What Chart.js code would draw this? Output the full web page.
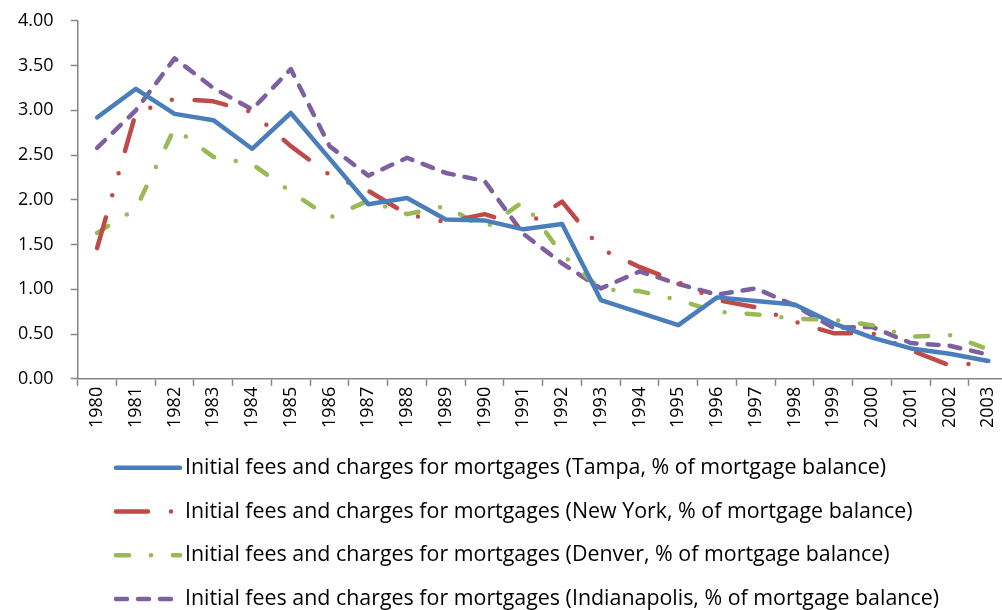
<!DOCTYPE html>
<html>
<head>
<meta charset="utf-8">
<script src="https://cdn.jsdelivr.net/npm/chart.js@4.4.0/dist/chart.umd.min.js"></script>
<style>
  html, body { margin: 0; padding: 0; background: #fff; overflow: hidden; }
  #wrap { width: 1011px; height: 610px; }
</style>
</head>
<body>
<div id="wrap"><canvas id="feesChart" width="1011" height="610"></canvas></div>
<script>
const years = ['1980', '1981', '1982', '1983', '1984', '1985', '1986', '1987', '1988', '1989', '1990', '1991',
               '1992', '1993', '1994', '1995', '1996', '1997', '1998', '1999', '2000', '2001', '2002', '2003'];

const tampa        = [2.92, 3.24, 2.96, 2.89, 2.57, 2.97, 2.46, 1.95, 2.02, 1.78, 1.77, 1.67,
                      1.73, 0.88, 0.74, 0.60, 0.91, 0.87, 0.83, 0.62, 0.46, 0.34, 0.28, 0.20];
const newYork      = [1.46, 2.97, 3.13, 3.10, 2.98, 2.60, 2.28, 2.10, 1.84, 1.75, 1.84, 1.70,
                      1.98, 1.45, 1.25, 1.08, 0.88, 0.80, 0.64, 0.51, 0.51, 0.32, 0.15, 0.18];
const denver       = [1.63, 1.90, 2.80, 2.48, 2.40, 2.09, 1.80, 1.99, 1.84, 1.93, 1.68, 1.98,
                      1.39, 1.00, 0.98, 0.88, 0.75, 0.72, 0.67, 0.66, 0.60, 0.47, 0.49, 0.33];
const indianapolis = [2.58, 3.00, 3.58, 3.25, 3.01, 3.46, 2.60, 2.27, 2.47, 2.30, 2.21, 1.62,
                      1.29, 1.01, 1.20, 1.06, 0.94, 1.01, 0.82, 0.57, 0.58, 0.40, 0.37, 0.27];

const seriesNames = [
    'Initial fees and charges for mortgages (Tampa, % of mortgage balance)',
    'Initial fees and charges for mortgages (New York, % of mortgage balance)',
    'Initial fees and charges for mortgages (Denver, % of mortgage balance)',
    'Initial fees and charges for mortgages (Indianapolis, % of mortgage balance)'
];

const FONT = '"Open Sans", Lato, sans-serif';
const AXIS_GREY = '#868686';

// legend drawn as rows under the axis, like the excel original
const rowLegend = {
    id: 'rowLegend',
    afterDraw(chart) {
        const ctx = chart.ctx;
        const top = chart.chartArea.bottom + 89;
        chart.data.datasets.forEach((ds, i) => {
            const y = top + i * 43.7;
            ctx.save();
            ctx.strokeStyle = ds.borderColor;
            ctx.lineWidth = ds.borderWidth;
            ctx.lineCap = 'round';
            ctx.setLineDash(ds.borderDash || []);
            ctx.beginPath();
            ctx.moveTo(116, y);
            ctx.lineTo(180, y);
            ctx.stroke();
            ctx.setLineDash([]);
            ctx.fillStyle = '#000';
            ctx.font = '21.4px ' + FONT;
            ctx.textBaseline = 'middle';
            ctx.fillText(ds.label, 185, y);
            ctx.restore();
        });
    }
};

function line(label, data, color, dash) {
    return {
        label: label,
        data: data,
        borderColor: color,
        backgroundColor: color,
        borderWidth: 4.5,
        borderDash: dash,
        borderCapStyle: 'round',
        borderJoinStyle: 'round',
        pointRadius: 0,
        tension: 0,
        fill: false
    };
}

const ctx = document.getElementById('feesChart').getContext('2d');
let feesChart = new Chart(ctx, {
    type: 'line',
    data: {
        labels: years,
        datasets: [
            line(seriesNames[0], tampa, '#4A7EBB', []),
            line(seriesNames[1], newYork, '#BE4B48', [32, 23, 0, 23, 0, 23]),
            line(seriesNames[2], denver, '#98B954', [13, 22, 0, 22]),
            line(seriesNames[3], indianapolis, '#7D60A0', [11, 11])
        ]
    },
    options: {
        responsive: false,
        animation: false,
        layout: { padding: { left: 18, right: 3, top: 0, bottom: 181 } },
        plugins: {
            legend: { display: false },
            tooltip: { enabled: false }
        },
        scales: {
            x: {
                offset: true,
                grid: { offset: true, drawOnChartArea: false, tickLength: 7, tickColor: AXIS_GREY, tickWidth: 1.5 },
                border: { color: AXIS_GREY, width: 1.5 },
                ticks: { maxRotation: 90, minRotation: 90, autoSkip: false, padding: 1,
                         color: '#000', font: { family: FONT, size: 18 } }
            },
            y: {
                min: 0,
                max: 4,
                afterFit: scale => { scale.width = 59.7; },
                grid: { drawOnChartArea: false, tickLength: 7, tickColor: AXIS_GREY, tickWidth: 1.5 },
                border: { color: AXIS_GREY, width: 1.5 },
                ticks: { stepSize: 0.5, padding: 10, crossAlign: 'far', color: '#000',
                         font: { family: FONT, size: 18 },
                         callback: v => v.toFixed(2) }
            }
        }
    },
    plugins: [rowLegend]
});
</script>
</body>
</html>
